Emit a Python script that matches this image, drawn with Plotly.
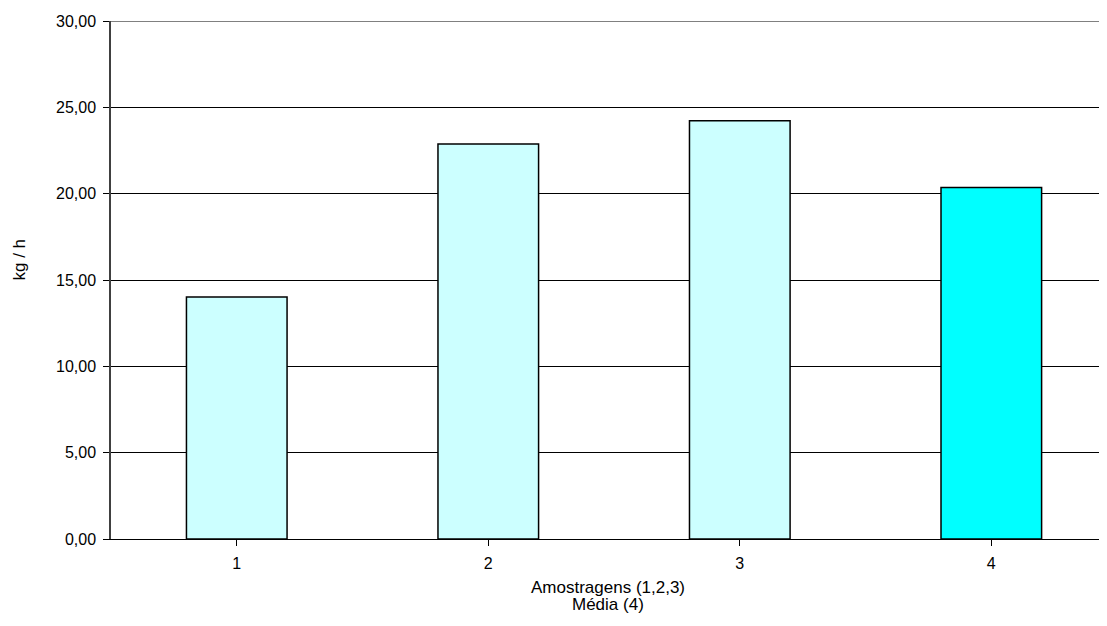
import plotly.graph_objects as go

categories = [1, 2, 3, 4]
values = [14.02, 22.87, 24.22, 20.36]
bar_colors = ["#CCFFFF", "#CCFFFF", "#CCFFFF", "#00FFFF"]
y_ticks = [0, 5, 10, 15, 20, 25, 30]
y_tick_labels = ["0,00", "5,00", "10,00", "15,00", "20,00", "25,00", "30,00"]
x_title_lines = ["Amostragens (1,2,3)", "Média (4)"]
y_title = "kg / h"

# page body has an 8px margin; compensate so the plot area lands at x 111..1107, y 21..539
W, H = 1099, 618
L, R, T, B = 103, 0, 13, 87
PLOT_H = H - T - B
FONT = "Liberation Sans, Arial, sans-serif"
FS = 16
TFS = 17

fig = go.Figure()
fig.add_trace(go.Bar(
    x=categories, y=values, width=0.4,
    marker=dict(color=bar_colors, line=dict(color="#000000", width=1.5)),
))

annotations = []
for i, line in enumerate(x_title_lines):
    annotations.append(dict(
        text=line, xref="paper", yref="paper", x=0.499, y=0,
        yshift=-48 - 17 * i, xanchor="center", yanchor="middle",
        showarrow=False, font=dict(family=FONT, size=TFS)))
annotations.append(dict(
    text=y_title, xref="paper", yref="paper",
    x=0, xshift=-91.5, y=(539 - 260) / PLOT_H,
    xanchor="center", yanchor="middle", textangle=-90,
    showarrow=False, font=dict(family=FONT, size=TFS)))

fig.update_layout(
    width=W, height=H,
    margin=dict(l=L, r=R, t=T, b=B),
    paper_bgcolor="white", plot_bgcolor="white",
    font=dict(family=FONT, size=FS, color="#000000"),
    showlegend=False,
    xaxis=dict(
        range=[0.5, 4.46], tickmode="array", tickvals=categories,
        ticktext=[str(c) for c in categories],
        tickson="boundaries", ticks="outside", ticklen=6, tickcolor="#000000",
        ticklabelstandoff=4,
        showgrid=False, showline=True, linecolor="#000000", linewidth=1,
        zeroline=False, fixedrange=True,
    ),
    yaxis=dict(
        range=[0, 30], tickmode="array", tickvals=y_ticks, ticktext=y_tick_labels,
        ticks="outside", ticklen=6, tickcolor="#000000",
        ticklabelstandoff=4,
        showgrid=True, gridcolor="#000000", gridwidth=1,
        showline=True, linecolor="#404040", linewidth=1.5,
        zeroline=False, fixedrange=True,
    ),
    annotations=annotations,
    shapes=[
        dict(type="line", xref="paper", yref="y", x0=0, x1=1, y0=30, y1=30,
             line=dict(color="#808080", width=2)),
    ],
)

fig.write_html("out.html")
